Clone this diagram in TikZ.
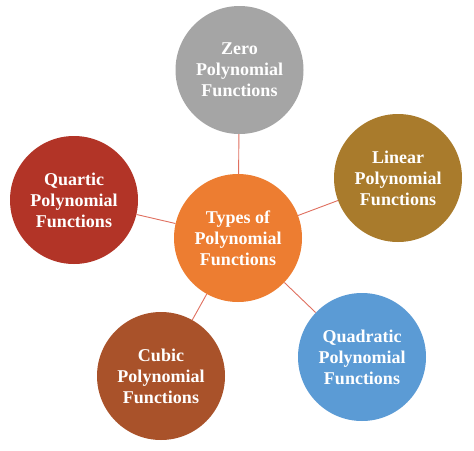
\documentclass[tikz,border=0pt]{standalone}
\usepackage{fontspec}
\setmainfont{Liberation Serif}
\definecolor{cCenter}{HTML}{ED7D31}
\definecolor{cZero}{HTML}{A5A5A5}
\definecolor{cLinear}{HTML}{A97B2C}
\definecolor{cQuad}{HTML}{5B9BD5}
\definecolor{cCubic}{HTML}{A9522A}
\definecolor{cQuartic}{HTML}{B23427}
\definecolor{cLine}{HTML}{E07060}
\begin{document}
\begin{tikzpicture}[x=1pt,y=1pt,
  bubble/.style={circle, minimum size=128pt, inner sep=0pt, text=white,
    align=center, font=\fontsize{18}{21}\selectfont\bfseries},
  link/.style={draw=cLine, line width=0.9pt}]
\useasboundingbox[fill=white] (0,0) rectangle (474,-450);
\node[bubble, fill=cCenter] (center) at (238,-238) {Types of\\Polynomial\\Functions};
\node[bubble, fill=cZero] (zero) at (239.5,-70) {Zero\\Polynomial\\Functions};
\node[bubble, fill=cLinear] (linear) at (398,-178) {Linear\\Polynomial\\Functions};
\node[bubble, fill=cQuad] (quad) at (362,-357) {Quadratic\\Polynomial\\Functions};
\node[bubble, fill=cCubic] (cubic) at (161,-376) {Cubic\\Polynomial\\Functions};
\node[bubble, fill=cQuartic] (quartic) at (74,-200) {Quartic\\Polynomial\\Functions};
\draw[link] (center) -- (zero);
\draw[link] (center) -- (linear);
\draw[link] (center) -- (quad);
\draw[link] (center) -- (cubic);
\draw[link] (center) -- (quartic);
\end{tikzpicture}
\end{document}
